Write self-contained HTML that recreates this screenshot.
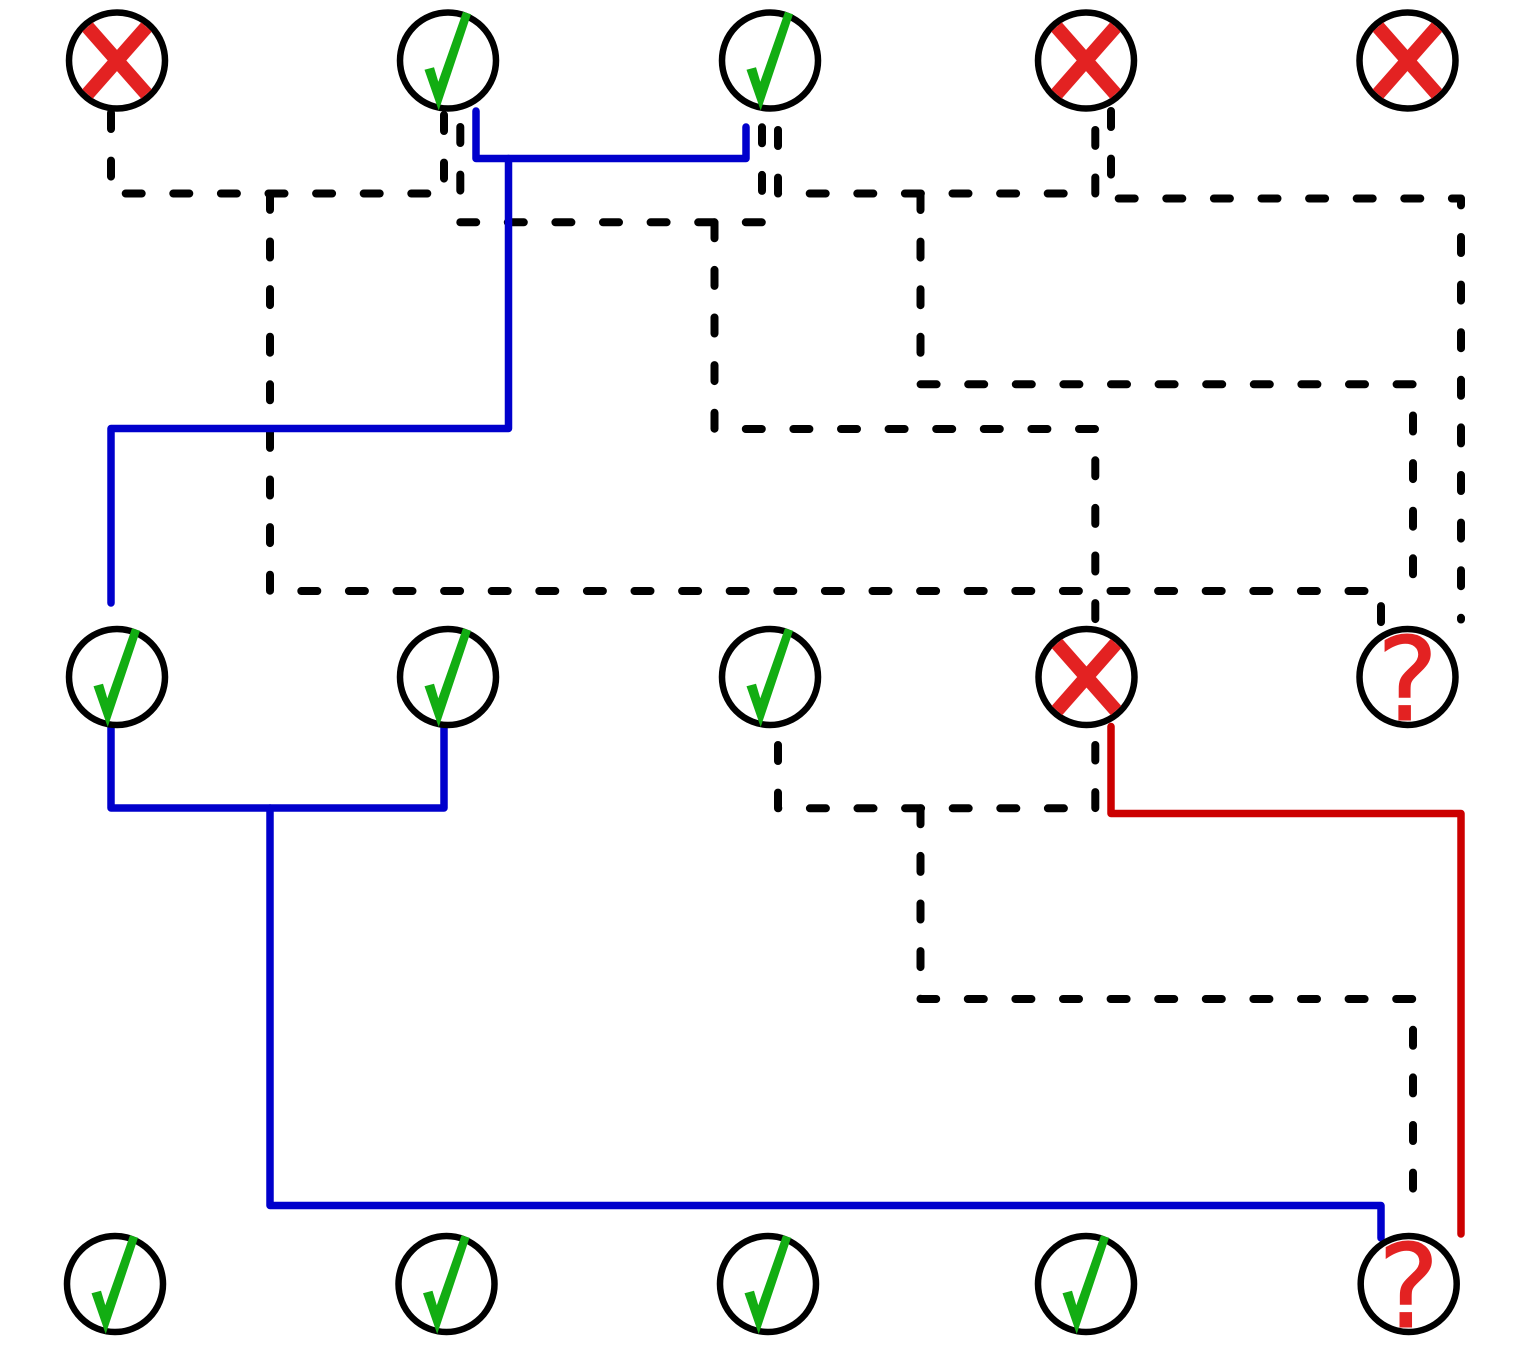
<!DOCTYPE html>
<html>
<head>
<meta charset="utf-8">
<style>
html,body{margin:0;padding:0;background:#fff;}
svg{display:block;}
text{font-family:"DejaVu Sans",sans-serif;font-size:116px;fill:#e32222;stroke:#e32222;stroke-width:1;text-anchor:middle;}
</style>
</head>
<body>
<svg width="1524" height="1350" viewBox="0 0 1524 1350" xmlns="http://www.w3.org/2000/svg">
<defs>
<g id="c"><circle r="48" fill="none" stroke="#000" stroke-width="6.500"/></g>
<g id="x"><path d="M-29.500 -33.500L29.500 33.500M29.500 -33.500L-29.500 33.500" fill="none" stroke="#e32222" stroke-width="14"/></g>
<g id="v"><polygon points="-9.300,50 -23.500,9.300 -14,6.700 -9.700,21.300 15,-48.700 23,-46.300" fill="#12ad12"/></g>
</defs>

<g fill="none" stroke="#000" stroke-width="8" stroke-linecap="round" stroke-linejoin="round" stroke-dasharray="16 31.6">
<path d="M111 113V193.500H444V113"/>
<path d="M270 193.900V591H1381V626"/>
<path d="M460.300 127V222.300H762V127"/>
<path d="M714.500 222.300V429H1095.300V622"/>
<path d="M778 130V193.500H1095.300V130"/>
<path d="M920.500 194V384.300H1413V575.500"/>
<path d="M1111 111V198.500H1461V619.500"/>
<path d="M778 745V808.300H1095.300V745"/>
<path d="M920.500 808.300V999H1413V1190.500"/>
</g>

<g fill="none" stroke="#0000cc" stroke-width="7.500" stroke-linecap="round" stroke-linejoin="round">
<path d="M476 111V158.500H746V127"/>
<path d="M508.500 158.500V428.500H111V603"/>
<path d="M111 727V808H444V727"/>
<path d="M270 808V1205.500H1381V1238"/>
</g>
<path d="M1111 726.500V813.500H1461V1234" fill="none" stroke="#cc0000" stroke-width="7.500" stroke-linecap="round" stroke-linejoin="round"/>

<use href="#c" x="117" y="60.500"/><use href="#x" x="117" y="60.500"/>
<use href="#c" x="448" y="60.500"/><use href="#v" x="448" y="60.500"/>
<use href="#c" x="770" y="60.500"/><use href="#v" x="770" y="60.500"/>
<use href="#c" x="1086" y="60.500"/><use href="#x" x="1086" y="60.500"/>
<use href="#c" x="1407.500" y="60.500"/><use href="#x" x="1407.500" y="60.500"/>

<use href="#c" x="117" y="677"/><use href="#v" x="117" y="677"/>
<use href="#c" x="448" y="677"/><use href="#v" x="448" y="677"/>
<use href="#c" x="770" y="677"/><use href="#v" x="770" y="677"/>
<use href="#c" x="1086.500" y="677"/><use href="#x" x="1086.500" y="677"/>
<use href="#c" x="1407.500" y="677"/>
<text x="1407.500" y="720">?</text>

<use href="#c" x="115" y="1284"/><use href="#v" x="115" y="1284"/>
<use href="#c" x="446.500" y="1284"/><use href="#v" x="446.500" y="1284"/>
<use href="#c" x="768" y="1284"/><use href="#v" x="768" y="1284"/>
<use href="#c" x="1086" y="1284"/><use href="#v" x="1086" y="1284"/>
<use href="#c" x="1408.700" y="1284"/>
<text x="1408.700" y="1327">?</text>
</svg>
</body>
</html>
